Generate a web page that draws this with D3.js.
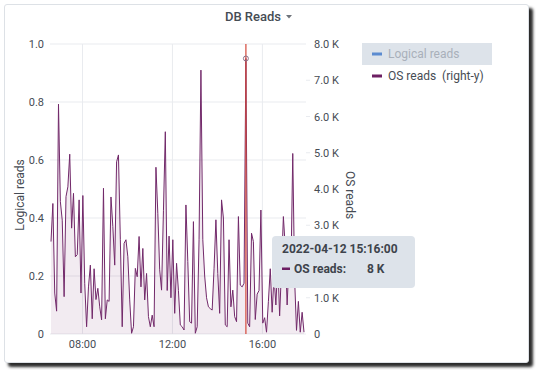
<!DOCTYPE html>
<html>
<head>
<meta charset="utf-8">
<script src="https://cdn.jsdelivr.net/npm/d3@7"></script>
<style>
  body { margin: 0; background: #ffffff; font-family: Roboto, "Noto Sans", sans-serif; }
  #panel {
    position: absolute; left: 4px; top: 4px; width: 523px; height: 357px;
    background: #fff; border: 1px solid #dde1e6; border-radius: 3px;
    box-shadow: 4px 4px 3px #2b2b2b;
  }
  svg { position: absolute; left: 0; top: 0; }
</style>
</head>
<body>
<div id="panel"></div>
<svg width="539" height="375"></svg>
<script>
// series: 5-minute samples starting 2022-04-12 06:36
const startTime = new Date(2022, 3, 12, 6, 36, 0);
const stepMinutes = 5;
const osReads = [
  2550, 3600, 1130, 630, 6340, 3650, 3140, 1030, 3790, 4060,
  4960, 2920, 3880, 2130, 2190, 3700, 1130, 3820, 1400, 200,
  1300, 1900, 420, 1800, 950, 1260, 750, 390, 4020, 420,
  940, 900, 3780, 2960, 1900, 4750, 4940, 2600, 200, 2500,
  2600, 2130, 940, 20, 200, 1810, 1580, 2690, 1300, 2360,
  940, 1670, 480, 200, 520, 200, 4600, 3330, 1770, 1210,
  3400, 5580, 1200, 2700, 1000, 2600, 570, 1950, 1200, 250,
  200, 110, 3560, 2000, 340, 300, 3100, 20, 200, 2600,
  7280, 2600, 1600, 1000, 750, 700, 660, 1800, 3150, 1670,
  570, 3700, 3200, 250, 200, 2600, 750, 1210, 480, 340,
  3240, 1350, 1300, 1400, 7600, 300, 200, 2780, 2550, 400,
  1100, 1200, 3420, 300, 450, 50, 900, 1800, 600, 1600,
  800, 2000, 500, 1800, 3240, 2400, 800, 2000, 1600, 4980,
  1500, 100, 900, 50, 600, 50
];
const leftTicks = [0, 0.2, 0.4, 0.6, 0.8, 1.0];
const rightTicks = [0, 1000, 2000, 3000, 4000, 5000, 6000, 7000, 8000];
const xTickHours = [8, 12, 16];
const legendItems = [
  { name: "Logical reads", color: "#5b8bd0", hidden: true },
  { name: "OS reads  (right-y)", color: "#6d1f63", hidden: false }
];
const hoverIndex = 104;

const data = osReads.map((v, i) => ({
  t: new Date(startTime.getTime() + i * stepMinutes * 60000),
  v: v
}));

const svg = d3.select("svg");
const plot = { left: 51, right: 304, top: 44, bottom: 334 };
const textColor = "#464c54";
const gridColor = "#e9ebef";

const x = d3.scaleTime()
  .domain(d3.extent(data, d => d.t))
  .range([plot.left, plot.right]);
const yLeft = d3.scaleLinear().domain([0, 1]).range([plot.bottom, plot.top]);
const yRight = d3.scaleLinear().domain([0, 8000]).range([plot.bottom, plot.top]);

// title
svg.append("text")
  .attr("x", 281).attr("y", 21)
  .attr("text-anchor", "end")
  .attr("font-size", 13).attr("font-weight", 500)
  .attr("fill", textColor)
  .text("DB Reads");
svg.append("path")
  .attr("d", "M286,15 L292,15 L289,18.5 Z")
  .attr("fill", "#6e737b");

// horizontal grid + left axis
svg.append("g")
  .selectAll("line").data(leftTicks).join("line")
  .attr("x1", plot.left - 1).attr("x2", plot.right + 2)
  .attr("y1", d => yLeft(d)).attr("y2", d => yLeft(d))
  .attr("stroke", gridColor);

svg.append("g")
  .selectAll("text").data(leftTicks).join("text")
  .attr("x", 44).attr("y", d => yLeft(d) + 4)
  .attr("text-anchor", "end")
  .attr("font-size", 11).attr("fill", textColor)
  .text(d => d === 0 ? "0" : d.toFixed(1));

// vertical grid + x labels
const xTicks = xTickHours.map(h => new Date(2022, 3, 12, h, 0, 0));
svg.append("g")
  .selectAll("line").data(xTicks).join("line")
  .attr("x1", d => x(d)).attr("x2", d => x(d))
  .attr("y1", plot.top).attr("y2", plot.bottom)
  .attr("stroke", gridColor);
svg.append("g")
  .selectAll("text").data(xTicks).join("text")
  .attr("x", d => x(d)).attr("y", 348)
  .attr("text-anchor", "middle")
  .attr("font-size", 11).attr("fill", textColor)
  .text(d => d3.timeFormat("%H:%M")(d));

// right axis (the 2.0 K label sits under the tooltip, so it is not drawn)
svg.append("g")
  .selectAll("line").data(rightTicks.filter(d => d % 2000 !== 0 || d === 2000 || d === 6000)).join("line")
  .attr("x1", plot.right + 2).attr("x2", plot.right + 6)
  .attr("y1", d => yRight(d)).attr("y2", d => yRight(d))
  .attr("stroke", gridColor);
svg.append("g")
  .selectAll("text").data(rightTicks.filter(d => d !== 2000)).join("text")
  .attr("x", 314).attr("y", d => yRight(d) + 4)
  .attr("font-size", 11).attr("fill", textColor)
  .text(d => d === 0 ? "0" : (d / 1000).toFixed(1) + " K");

// axis labels
svg.append("text")
  .attr("transform", "translate(24,195) rotate(-90)")
  .attr("text-anchor", "middle")
  .attr("font-size", 12).attr("fill", textColor)
  .text("Logical reads");
svg.append("text")
  .attr("transform", "translate(346,195) rotate(90)")
  .attr("text-anchor", "middle")
  .attr("font-size", 12).attr("fill", textColor)
  .text("OS reads");

// series
svg.append("path")
  .datum(data)
  .attr("fill", "#6d1f63").attr("fill-opacity", 0.09)
  .attr("d", d3.area().x(d => x(d.t)).y0(plot.bottom).y1(d => yRight(d.v)));
svg.append("path")
  .datum(data)
  .attr("fill", "none").attr("stroke", "#72296a")
  .attr("stroke-width", 1).attr("stroke-linejoin", "round")
  .attr("d", d3.line().x(d => x(d.t)).y(d => yRight(d.v)));

// hover crosshair
const hp = data[hoverIndex];
svg.append("line")
  .attr("x1", x(hp.t)).attr("x2", x(hp.t))
  .attr("y1", plot.top).attr("y2", plot.bottom)
  .attr("stroke", "#d4483a").attr("stroke-width", 1.2);
svg.append("circle")
  .attr("cx", x(hp.t)).attr("cy", yRight(hp.v)).attr("r", 2.5)
  .attr("fill", "none").attr("stroke", "#8c7189").attr("stroke-width", 1);

// legend
svg.append("rect")
  .attr("x", 362).attr("y", 43).attr("width", 130).attr("height", 22)
  .attr("fill", "#dde3ea");
const leg = svg.append("g")
  .selectAll("g").data(legendItems).join("g")
  .attr("transform", (d, i) => `translate(372,${54 + i * 22})`);
leg.append("rect")
  .attr("x", 0).attr("y", -1.5).attr("width", 10).attr("height", 3)
  .attr("fill", d => d.color);
leg.append("text")
  .attr("x", 16).attr("y", 4)
  .attr("font-size", 12)
  .attr("fill", d => d.hidden ? "#a9b0ba" : textColor)
  .style("white-space", "pre")
  .text(d => d.name);

// tooltip
const tip = svg.append("g").attr("transform", "translate(272,236)");
tip.append("rect")
  .attr("width", 143).attr("height", 52).attr("rx", 4)
  .attr("fill", "#dde3ea");
tip.append("text")
  .attr("x", 10).attr("y", 17)
  .attr("font-size", 12).attr("font-weight", 700).attr("fill", "#3e444c")
  .text(d3.timeFormat("%Y-%m-%d %H:%M:%S")(hp.t));
tip.append("rect")
  .attr("x", 10).attr("y", 31.5).attr("width", 8).attr("height", 2.5)
  .attr("fill", "#6d1f63");
tip.append("text")
  .attr("x", 22).attr("y", 37)
  .attr("font-size", 12).attr("font-weight", 700).attr("fill", "#3e444c")
  .text("OS reads:");
tip.append("text")
  .attr("x", 95).attr("y", 37)
  .attr("font-size", 12).attr("font-weight", 700).attr("fill", "#3e444c")
  .text(Math.round(hp.v / 1000) + " K");
</script>
</body>
</html>
